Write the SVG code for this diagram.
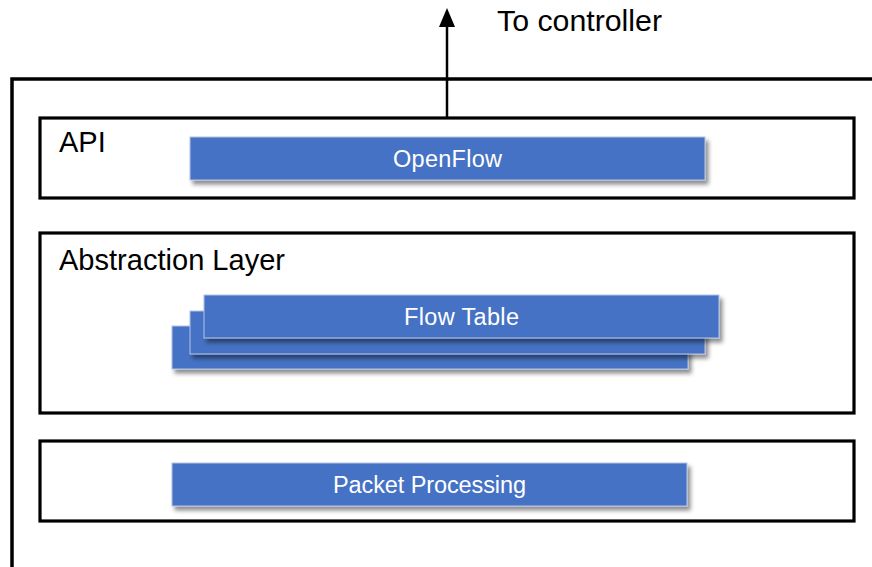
<svg xmlns="http://www.w3.org/2000/svg" width="872" height="567" viewBox="0 0 872 567">
  <style>
    .frame { fill: none; stroke: #000; stroke-width: 3.5; }
    .layer { fill: #fff; stroke: #000; stroke-width: 3.2; }
    .block { fill: #4472C4; stroke: #B4C3E4; stroke-width: 1; filter: url(#shadow); }
    .title { font-family: "Liberation Sans", Arial, sans-serif; font-size: 29px; fill: #000; }
    .label { font-family: "Liberation Sans", Arial, sans-serif; font-size: 23.5px; fill: #fff; text-anchor: middle; }
    .wire { fill: none; stroke: #000; stroke-width: 2.5; }
  </style>
  <defs>
    <filter id="shadow" x="-5%" y="-30%" width="112%" height="180%">
      <feDropShadow dx="3" dy="4" stdDeviation="2" flood-color="#000" flood-opacity="0.45"/>
    </filter>
  </defs>

  <!-- switch outline (open to the right and bottom) -->
  <g id="switch">
    <path class="frame" d="M12,567 L12,79 L872,79"/>
  </g>

  <!-- uplink to controller -->
  <g id="connectors">
    <line class="wire" x1="447" y1="118" x2="447" y2="26"/>
    <polygon points="447,8 439,27 455,27" fill="#000"/>
  </g>
  <text class="title" x="497" y="31" textLength="165" lengthAdjust="spacingAndGlyphs">To controller</text>

  <!-- API layer -->
  <g id="api">
    <rect class="layer" x="40" y="118" width="814" height="80"/>
    <text class="title" x="59" y="152">API</text>
    <g id="openflow">
      <rect class="block" x="190" y="137" width="515" height="43"/>
      <text class="label" x="447.5" y="167" textLength="109">OpenFlow</text>
    </g>
  </g>

  <!-- Abstraction layer -->
  <g id="abstraction">
    <rect class="layer" x="40" y="233" width="814" height="180"/>
    <text class="title" x="59" y="270" textLength="226" lengthAdjust="spacingAndGlyphs">Abstraction Layer</text>
    <g id="flow-table">
      <rect class="block" x="172" y="326" width="516" height="43"/>
      <rect class="block" x="190" y="311" width="515" height="43"/>
      <rect class="block" x="204" y="295" width="515" height="43"/>
      <text class="label" x="461.5" y="325" textLength="115">Flow Table</text>
    </g>
  </g>

  <!-- Packet processing layer -->
  <g id="packet">
    <rect class="layer" x="40" y="441" width="814" height="80"/>
    <g id="packet-processing">
      <rect class="block" x="172" y="463" width="515" height="43"/>
      <text class="label" x="429.5" y="493" textLength="193">Packet Processing</text>
    </g>
  </g>
</svg>
